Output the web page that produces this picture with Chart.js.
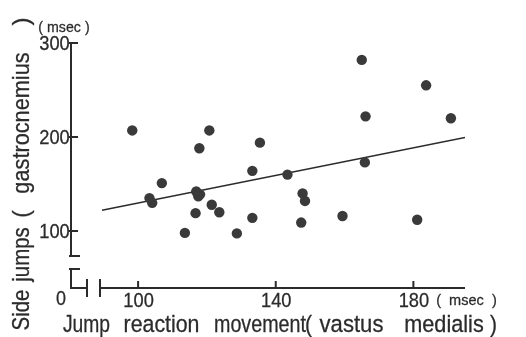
<!DOCTYPE html>
<html>
<head>
<meta charset="utf-8">
<script src="https://cdn.jsdelivr.net/npm/chart.js@4"></script>
<style>
  html, body { margin: 0; padding: 0; background: #fff; }
  canvas { display: block; }
</style>
</head>
<body>
<canvas id="chart" width="526" height="337"></canvas>
<script>
// values (msec)
const jumpX = [98.3, 165.0, 183.7, 166.1, 190.9, 120.7, 117.8, 135.4, 133.2, 143.4, 165.9, 106.9, 103.3, 104.1,
               116.9, 118.0, 117.5, 121.4, 123.6, 116.7, 113.6, 128.7, 133.2, 147.8, 148.5, 147.4, 159.4, 181.1];
const sideY = [207, 282, 255, 222, 220, 207, 188, 194, 164, 160, 173, 151, 135, 130,
               142, 139, 137, 128, 120, 119, 98, 97.5, 114, 140, 132, 109, 116, 112];
const lineX = [89.5, 195];
const lineY = [122, 199.6];
const xTicks = [100, 140, 180];
const yTicks = [100, 200, 300];

const ink = '#2b2b2b';
const font = 'Liberation Sans, Arial, sans-serif';

// put a word roughly into the span it takes in the original,
// only half-way squeezing it so the letters keep their shape
function fitText(ctx, text, x0, x1, y, vScale) {
    const w = ctx.measureText(text).width;
    const s = 1 + ((x1 - x0) / w - 1) * 0.5;
    ctx.save();
    ctx.translate((x0 + x1) / 2, y);
    ctx.scale(s, vScale);
    ctx.textAlign = 'center';
    ctx.fillText(text, 0, 0);
    ctx.strokeText(text, 0, 0);
    ctx.restore();
}

const axesPlugin = {
    id: 'brokenAxes',
    afterDraw(chart) {
        const ctx = chart.ctx;
        const xs = chart.scales.x, ys = chart.scales.y;
        const left = chart.chartArea.left, bottom = chart.chartArea.bottom;
        const right = chart.chartArea.right;

        ctx.save();
        ctx.strokeStyle = ink;
        ctx.lineWidth = 2;
        ctx.beginPath();
        // y axis with break
        ctx.moveTo(left, ys.getPixelForValue(300));
        ctx.lineTo(left, bottom - 32);
        ctx.moveTo(left - 2, bottom - 32); ctx.lineTo(left + 9, bottom - 32);
        ctx.moveTo(left - 2, bottom - 19); ctx.lineTo(left + 9, bottom - 19);
        ctx.moveTo(left, bottom - 19); ctx.lineTo(left, bottom);
        // x axis with break
        ctx.lineTo(left + 16, bottom);
        ctx.moveTo(left + 16, bottom - 9); ctx.lineTo(left + 16, bottom + 9);
        ctx.moveTo(left + 29, bottom - 9); ctx.lineTo(left + 29, bottom + 9);
        ctx.moveTo(left + 29, bottom); ctx.lineTo(right, bottom);
        // ticks
        yTicks.forEach(v => {
            const y = ys.getPixelForValue(v);
            ctx.moveTo(left - 2, y); ctx.lineTo(left + 7, y);
        });
        xTicks.forEach(v => {
            const x = xs.getPixelForValue(v);
            ctx.moveTo(x, bottom); ctx.lineTo(x, bottom - 7);
        });
        ctx.stroke();

        // text
        ctx.fillStyle = ink;
        ctx.lineWidth = 0.25;
        ctx.textBaseline = 'alphabetic';
        ctx.font = '18px ' + font;
        yTicks.forEach(v => {
            const y = ys.getPixelForValue(v);
            fitText(ctx, String(v), left - 32, left - 1, y + 7, 1.1);
        });
        xTicks.forEach(v => {
            const x = xs.getPixelForValue(v);
            fitText(ctx, String(v), x - 15, x + 16, bottom + 19, 1.1);
        });
        fitText(ctx, '0', left - 15, left - 5, bottom + 17, 1.1);

        ctx.font = '14px ' + font;
        fitText(ctx, '( msec )', 38, 90, 32, 1.05);
        fitText(ctx, '(  msec  )', 435, 498, bottom + 17, 1.05);

        // x title
        ctx.font = '21px ' + font;
        [['Jump', 65, 108], ['reaction', 123, 200], ['movement', 217, 303], ['(', 305, 312],
         ['vastus', 318, 385], ['medialis', 403, 485], [')', 490, 497]]
            .forEach(w => fitText(ctx, w[0], w[1], w[2], 332, 1.1));

        // y title, read bottom to top
        ctx.save();
        ctx.translate(29, 0);
        ctx.rotate(-Math.PI / 2);
        [['Side', 290, 330], ['jumps', 228, 281], ['(', 210, 218],
         ['gastrocnemius', 50, 196], [')', 17, 26]]
            .forEach(w => fitText(ctx, w[0], -w[2], -w[1], 0, 1.1));
        ctx.restore();
        ctx.restore();
    }
};

new Chart(document.getElementById('chart'), {
    type: 'scatter',
    data: {
        datasets: [{
            data: jumpX.map((x, i) => ({ x: x, y: sideY[i] })),
            pointRadius: 5.2,
            pointBackgroundColor: '#3a3a3a',
            pointBorderWidth: 0
        }, {
            type: 'line',
            data: lineX.map((x, i) => ({ x: x, y: lineY[i] })),
            borderColor: ink,
            borderWidth: 1.5,
            pointRadius: 0,
            fill: false
        }]
    },
    options: {
        responsive: false,
        animation: false,
        layout: { padding: { left: 71, top: 43, right: 61, bottom: 49 } },
        scales: {
            x: { type: 'linear', min: 80.5, max: 195, display: false },
            y: { min: 39.4, max: 300, display: false }
        },
        plugins: { legend: { display: false }, tooltip: { enabled: false } }
    },
    plugins: [axesPlugin]
});
</script>
</body>
</html>
